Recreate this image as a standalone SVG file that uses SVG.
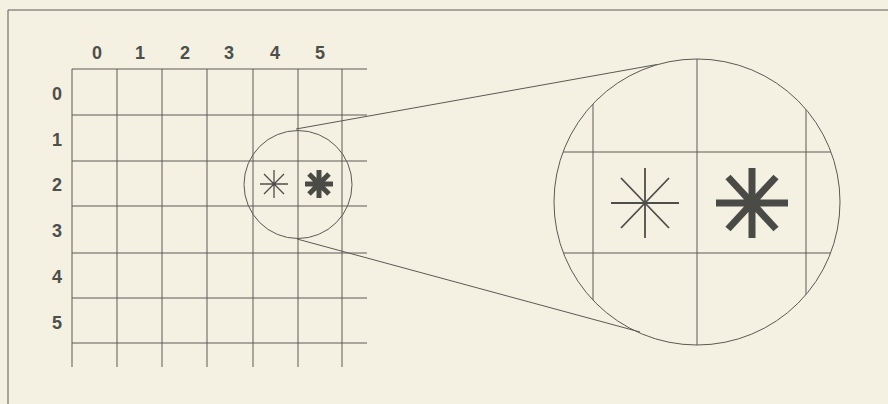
<svg xmlns="http://www.w3.org/2000/svg" width="888" height="404" viewBox="0 0 888 404">
<defs>
<style>
.bg{fill:#f4f0e2}
.ln{stroke:#5a5a56;stroke-width:1;fill:none}
.lbl{font-family:"Liberation Sans",Arial,sans-serif;font-size:18px;font-weight:bold;fill:#4e4e4a;text-anchor:middle;dominant-baseline:central}
.thin{stroke:#4e4e4a;fill:none;stroke-linecap:butt}
.bold{stroke:#4a4a46;fill:none;stroke-linecap:butt}
</style>
<clipPath id="bigclip"><circle cx="697" cy="202" r="143"/></clipPath>
</defs>
<rect class="bg" x="0" y="0" width="888" height="404"/>
<path class="ln" d="M8,404 V10 H888" stroke-width="1.5"/>

<g id="grid">
<path class="ln" d="M72,69 H367 M72,115 H367 M72,161 H367 M72,206 H367 M72,253 H367 M72,298 H367 M72,343 H367"/>
<path class="ln" d="M72,69 V367 M117,69 V367 M162,69 V367 M207,69 V367 M253,69 V367 M298,69 V367 M342,69 V367"/>
</g>
<g id="col-labels">
<text class="lbl" x="97" y="53">0</text>
<text class="lbl" x="140" y="53">1</text>
<text class="lbl" x="185" y="53">2</text>
<text class="lbl" x="229" y="53">3</text>
<text class="lbl" x="275" y="53">4</text>
<text class="lbl" x="320" y="53">5</text>
</g>
<g id="row-labels">
<text class="lbl" x="57" y="94">0</text>
<text class="lbl" x="57" y="140">1</text>
<text class="lbl" x="57" y="185">2</text>
<text class="lbl" x="57" y="231">3</text>
<text class="lbl" x="57" y="277">4</text>
<text class="lbl" x="57" y="323">5</text>
</g>

<g id="small-lens">
<circle class="ln" cx="298" cy="184.5" r="54"/>
<g class="thin" stroke-width="1.3" transform="translate(274,184)">
<path d="M-14,0 H14 M0,-14 V14 M-10,-10 L10,10 M-10,10 L10,-10"/>
</g>
<g class="bold" stroke-width="5" transform="translate(319,184)">
<path d="M-14,0 H14 M0,-14 V14 M-10,-10 L10,10 M-10,10 L10,-10"/>
</g>
</g>

<g id="connectors">
<path class="ln" d="M296,129 L657,64.5"/>
<path class="ln" d="M297,239 L640,332"/>
</g>

<g id="big-lens">
<g clip-path="url(#bigclip)">
<path class="ln" d="M593,50 V360 M697,50 V360 M806,50 V360 M540,152 H860 M540,253 H860"/>
</g>
<circle class="ln" cx="697" cy="202" r="143"/>
<g class="thin" stroke-width="1.8" transform="translate(645,203)">
<path d="M-34,0 H34 M0,-35 V35 M-24,-25 L24,25 M-24,25 L24,-25"/>
</g>
<g class="bold" stroke-width="7" transform="translate(752,203)">
<path d="M-36,0 H36 M0,-35 V35 M-24,-26 L24,26 M-24,26 L24,-26"/>
</g>
</g>
</svg>
